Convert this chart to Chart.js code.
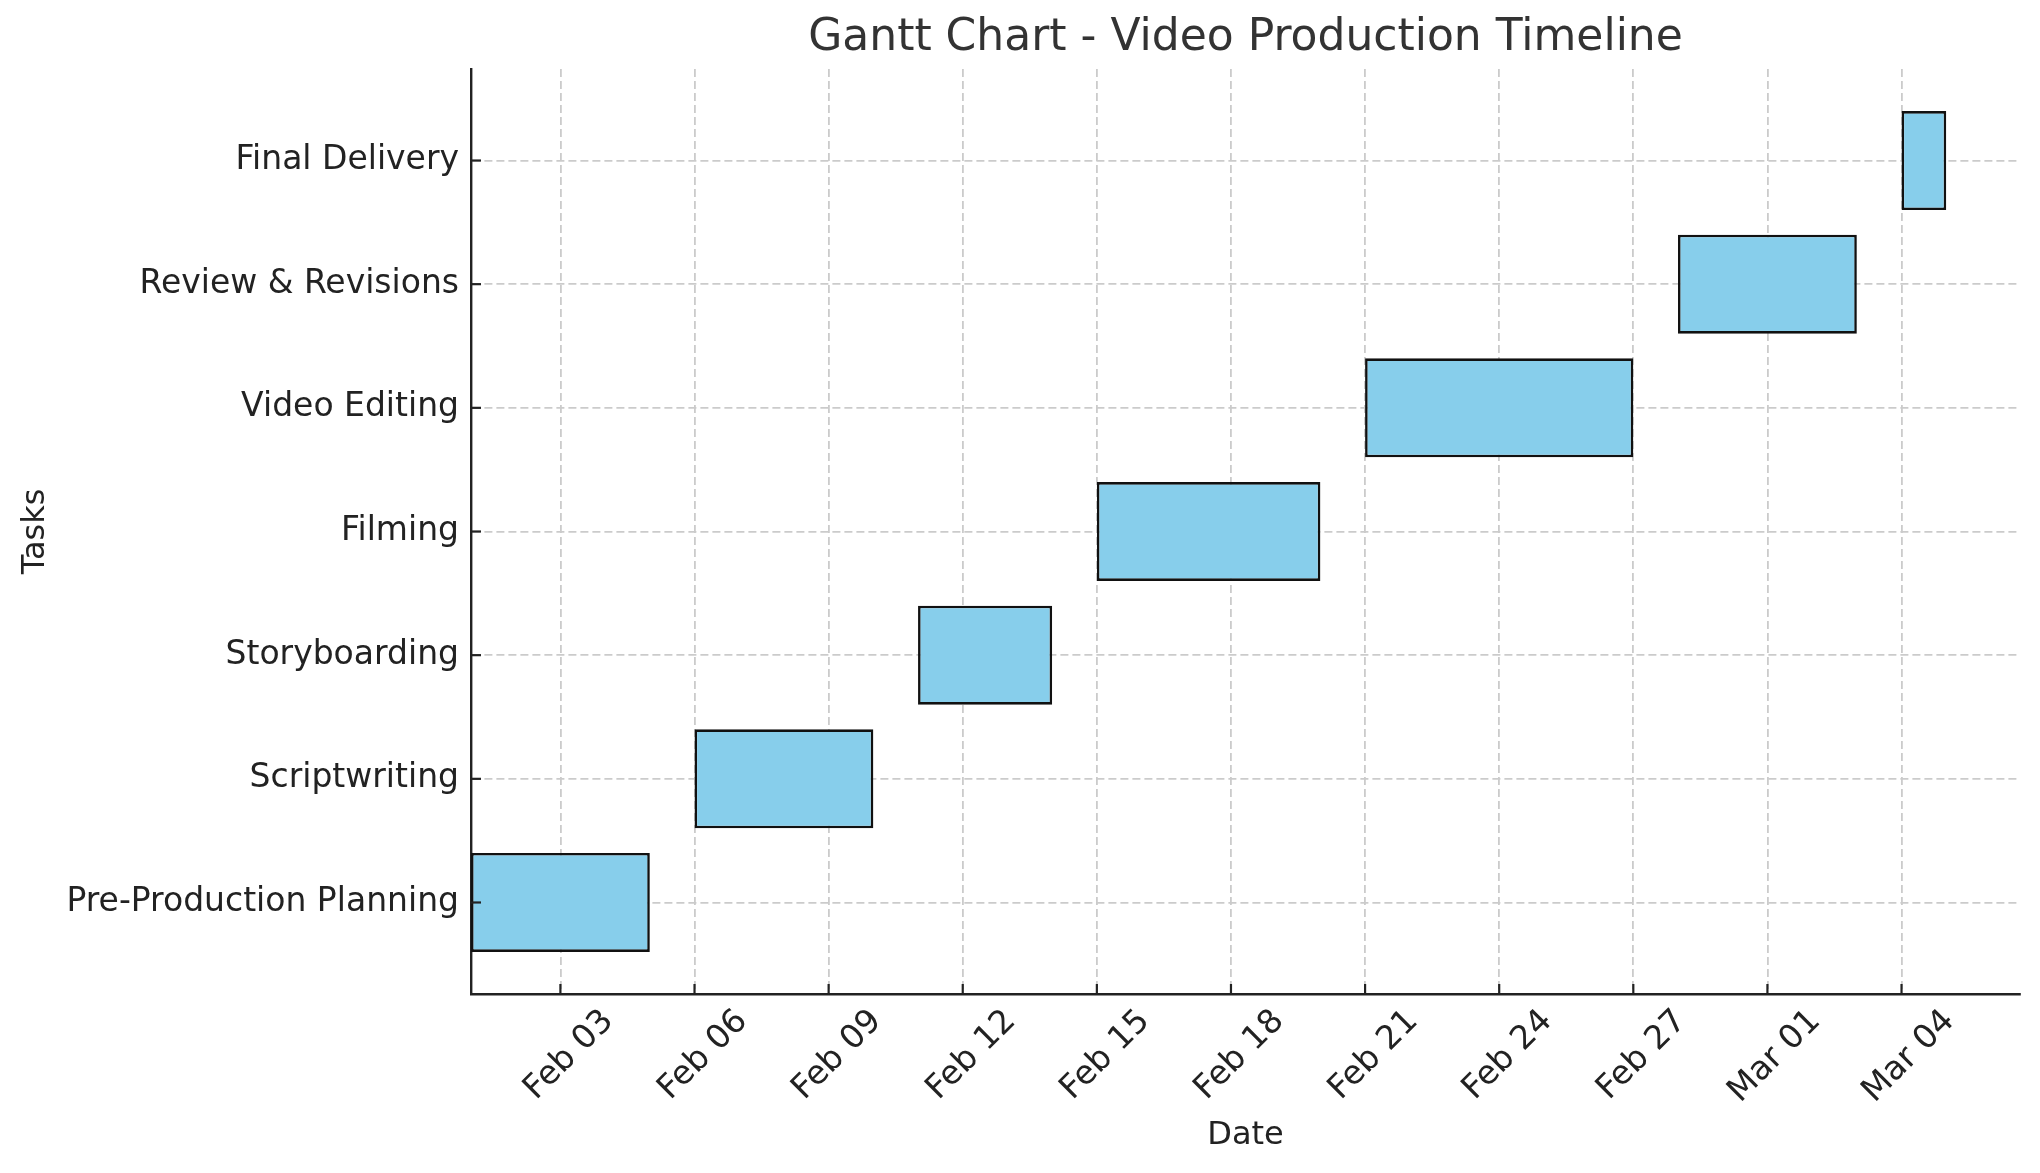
<!DOCTYPE html>
<html>
<head>
<meta charset="utf-8">
<title>Gantt Chart - Video Production Timeline</title>
<script src="https://cdn.jsdelivr.net/npm/chart.js@4.4.1/dist/chart.umd.min.js"></script>
<style>
  html, body { margin: 0; padding: 0; background: #ffffff; }
  #wrap { width: 2040px; height: 1173px; position: relative; }
</style>
</head>
<body>
<div id="wrap"><canvas id="gantt"></canvas></div>
<script>
// Tasks from bottom to top
var tasks = [
    'Pre-Production Planning',
    'Scriptwriting',
    'Storyboarding',
    'Filming',
    'Video Editing',
    'Review & Revisions',
    'Final Delivery'
];
var startDates = ['2024-02-01', '2024-02-06', '2024-02-11', '2024-02-15', '2024-02-21', '2024-02-28', '2024-03-04'];
var endDates   = ['2024-02-05', '2024-02-10', '2024-02-14', '2024-02-20', '2024-02-27', '2024-03-03', '2024-03-05'];
var xTickDates = ['2024-02-03', '2024-02-06', '2024-02-09', '2024-02-12', '2024-02-15', '2024-02-18',
                  '2024-02-21', '2024-02-24', '2024-02-27', '2024-03-01', '2024-03-04'];
var monthNames = ['Jan', 'Feb', 'Mar', 'Apr', 'May', 'Jun', 'Jul', 'Aug', 'Sep', 'Oct', 'Nov', 'Dec'];
var chartTitle = 'Gantt Chart - Video Production Timeline';

var baseDate = '2024-02-01';
var DAY = 86400000;

function toDay(s) {
    var p = s.split('-');
    var b = baseDate.split('-');
    return (Date.UTC(+p[0], +p[1] - 1, +p[2]) - Date.UTC(+b[0], +b[1] - 1, +b[2])) / DAY;
}

function dayLabel(v) {
    var b = baseDate.split('-');
    var d = new Date(Date.UTC(+b[0], +b[1] - 1, +b[2]) + v * DAY);
    var dd = d.getUTCDate();
    return monthNames[d.getUTCMonth()] + ' ' + (dd < 10 ? '0' + dd : dd);
}

var starts = startDates.map(toDay);
var ends = endDates.map(toDay);
var xTicks = xTickDates.map(toDay);

// matplotlib style axis range: sticky left edge, 5% margin on the right
var xMin = Math.min.apply(null, starts);
var xMaxData = Math.max.apply(null, ends);
var xMax = xMaxData + (xMaxData - xMin) * 0.05;
var yMin = -0.4 - 6.8 * 0.05;
var yMax = (tasks.length - 1) + 0.4 + 6.8 * 0.05;

var barData = tasks.map(function(t, i) {
    return { x: [starts[i], ends[i]], y: i };
});

var gridColor = '#cbcbcb';
var axisColor = '#222222';

// inward tick marks like the original figure
var inwardTicks = {
    id: 'inwardTicks',
    afterDraw: function(chart) {
        var ctx = chart.ctx;
        var area = chart.chartArea;
        var xs = chart.scales.x, ys = chart.scales.y;
        ctx.save();
        ctx.strokeStyle = axisColor;
        ctx.lineWidth = 2.2;
        xs.ticks.forEach(function(t) {
            var px = xs.getPixelForValue(t.value);
            ctx.beginPath();
            ctx.moveTo(px, area.bottom);
            ctx.lineTo(px, area.bottom - 10);
            ctx.stroke();
        });
        ys.ticks.forEach(function(t) {
            var py = ys.getPixelForValue(t.value);
            ctx.beginPath();
            ctx.moveTo(area.left, py);
            ctx.lineTo(area.left + 10, py);
            ctx.stroke();
        });
        ctx.restore();
    }
};

// title centred over the plot area, not the whole canvas
var areaTitle = {
    id: 'areaTitle',
    afterDraw: function(chart) {
        var ctx = chart.ctx;
        var area = chart.chartArea;
        ctx.save();
        ctx.font = '44px "DejaVu Sans", sans-serif';
        ctx.fillStyle = '#333333';
        ctx.textAlign = 'center';
        ctx.textBaseline = 'middle';
        ctx.fillText(chartTitle, (area.left + area.right) / 2, 39);
        ctx.restore();
    }
};

Chart.defaults.font.family = '"DejaVu Sans", sans-serif';
Chart.defaults.color = '#222222';

new Chart(document.getElementById('gantt'), {
    type: 'bar',
    data: {
        datasets: [{
            data: barData,
            backgroundColor: '#87CEEB',
            borderColor: '#111111',
            borderWidth: 2.6,
            borderSkipped: false,
            barPercentage: 0.8,
            categoryPercentage: 1.0
        }]
    },
    options: {
        indexAxis: 'y',
        responsive: true,
        maintainAspectRatio: false,
        animation: false,
        layout: {
            padding: { left: 0, right: 20, top: 69, bottom: 0 }
        },
        plugins: {
            legend: { display: false },
            tooltip: { enabled: false },
            title: { display: false }
        },
        scales: {
            x: {
                type: 'linear',
                position: 'bottom',
                min: xMin,
                max: xMax,
                z: 1,
                afterBuildTicks: function(scale) {
                    scale.ticks = xTicks.map(function(v) { return { value: v }; });
                },
                afterFit: function(scale) {
                    scale.height = 179;
                },
                grid: {
                    color: gridColor,
                    lineWidth: 1.8,
                    drawTicks: false
                },
                border: {
                    display: true,
                    color: axisColor,
                    width: 2.4,
                    dash: [8, 4]
                },
                ticks: {
                    autoSkip: false,
                    minRotation: 45,
                    maxRotation: 45,
                    labelOffset: 48,
                    padding: 8,
                    color: '#222222',
                    font: { size: 33 },
                    callback: function(v) { return dayLabel(v); }
                },
                title: {
                    display: true,
                    text: 'Date',
                    color: '#222222',
                    font: { size: 32 },
                    padding: { top: 0, bottom: 18 }
                }
            },
            y: {
                type: 'linear',
                min: yMin,
                max: yMax,
                offset: false,
                z: 1,
                afterBuildTicks: function(scale) {
                    scale.ticks = tasks.map(function(t, i) { return { value: i }; });
                },
                afterFit: function(scale) {
                    scale.width = 471;
                },
                grid: {
                    offset: false,
                    color: gridColor,
                    lineWidth: 1.8,
                    drawTicks: false
                },
                border: {
                    display: true,
                    color: axisColor,
                    width: 2.4,
                    dash: [8, 4]
                },
                ticks: {
                    padding: 12,
                    color: '#222222',
                    font: { size: 33 },
                    callback: function(v) { return tasks[v] !== undefined ? tasks[v] : ''; }
                },
                title: {
                    display: true,
                    text: 'Tasks',
                    color: '#222222',
                    font: { size: 32 },
                    padding: { top: 16, bottom: 0 }
                }
            }
        }
    },
    plugins: [inwardTicks, areaTitle]
});
</script>
</body>
</html>
